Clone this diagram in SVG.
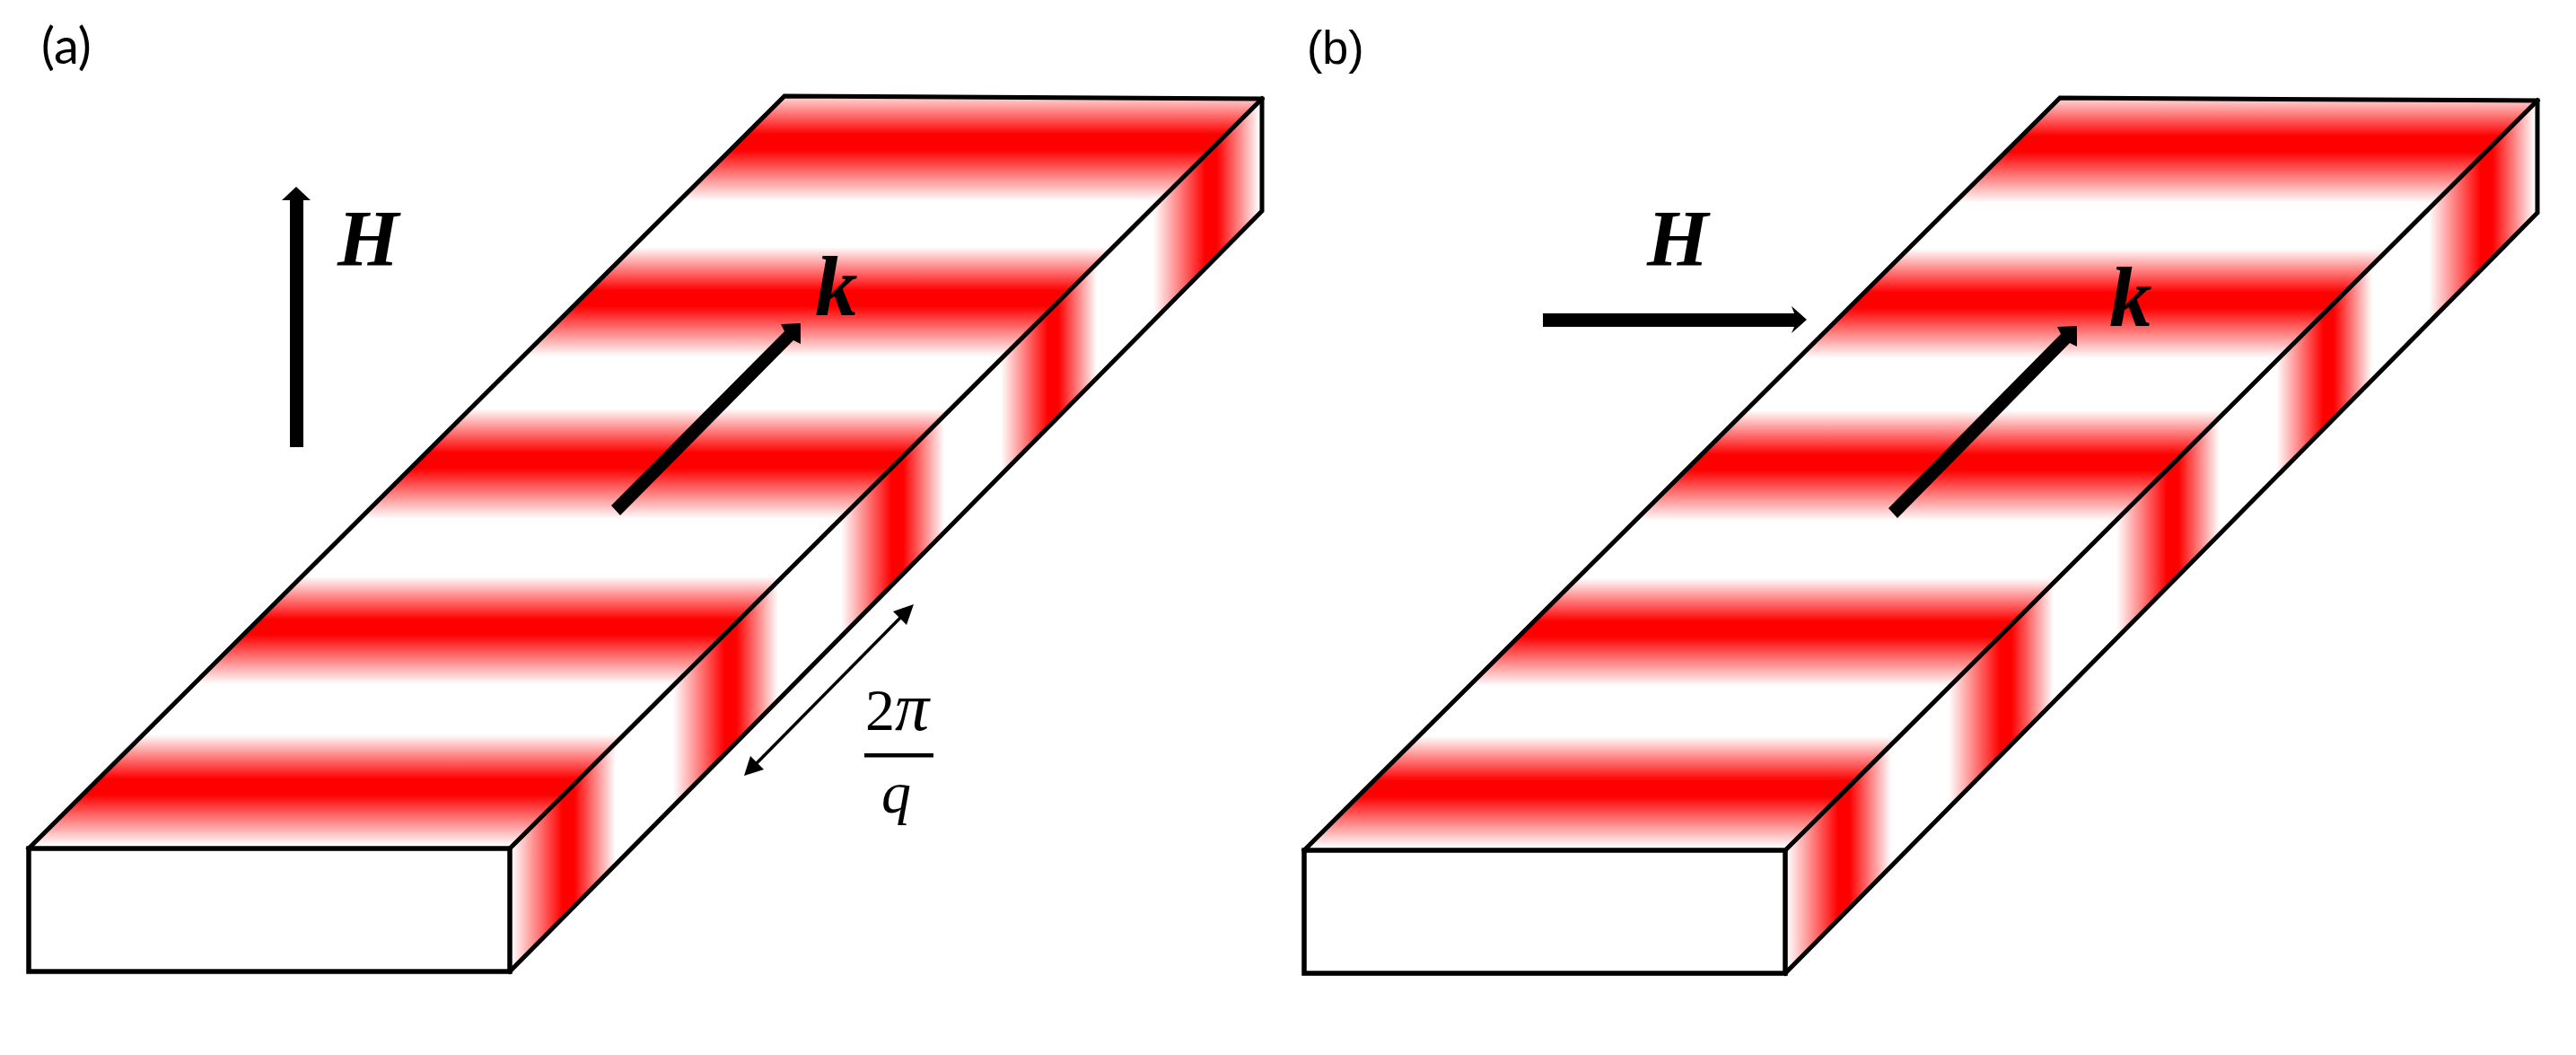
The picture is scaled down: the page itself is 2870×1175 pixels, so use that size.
<svg xmlns="http://www.w3.org/2000/svg" xmlns:xlink="http://www.w3.org/1999/xlink" width="2870" height="1175" viewBox="0 0 2870 1175">
<style>
.edge{fill:none;stroke:#000;stroke-width:5;stroke-linejoin:miter;stroke-linecap:square}
.front{fill:#fff;stroke:#000;stroke-width:5.5}
.sym{font-family:"Liberation Serif",serif;font-weight:bold;font-style:italic;fill:#000}
.math{font-family:"Liberation Serif",serif;font-size:66px;fill:#000}
</style>
<defs>
<linearGradient id="hb" x1="0" y1="0" x2="0" y2="1"><stop offset="0" stop-color="#f00" stop-opacity="0"/><stop offset=".4" stop-color="#f00"/><stop offset=".54" stop-color="#f00"/><stop offset="1" stop-color="#f00" stop-opacity="0"/></linearGradient>
<linearGradient id="vb" x1="0" y1="0" x2="1" y2="0"><stop offset="0" stop-color="#f00" stop-opacity="0"/><stop offset=".49" stop-color="#f00"/><stop offset=".6" stop-color="#f00"/><stop offset="1" stop-color="#f00" stop-opacity="0"/></linearGradient>
<clipPath id="topA"><polygon points="32,945 874,107 1406,110 568,945"/></clipPath>
<clipPath id="sideA"><polygon points="568,945 1406,110 1406,235 568,1082"/></clipPath>
<g id="slab">
<g clip-path="url(#topA)" fill="url(#hb)">
<rect x="0" y="100" width="1420" height="124"/>
<rect x="0" y="275" width="1420" height="122"/>
<rect x="0" y="455" width="1420" height="123"/>
<rect x="0" y="642" width="1420" height="120"/>
<rect x="0" y="818" width="1420" height="124"/>
</g>
<g clip-path="url(#sideA)" fill="url(#vb)">
<rect x="570" y="100" width="116" height="1000"/>
<rect x="750" y="100" width="117" height="1000"/>
<rect x="937" y="100" width="115" height="1000"/>
<rect x="1115" y="100" width="107" height="1000"/>
<rect x="1285" y="100" width="118" height="1000"/>
</g>
<polyline class="edge" points="32,945 874,107 1406,110 1406,235 568,1082"/>
<line class="edge" x1="568" y1="945" x2="1406" y2="110"/>
<rect class="front" x="32" y="945" width="536" height="137"/>
</g>
</defs>
<rect width="2870" height="1175" fill="#fff"/>
<g id="panel-a">
<use id="slab-a" href="#slab"/>
<text id="label-a" x="46" y="71" font-family="Lato,sans-serif" font-size="56" fill="#000">(a)</text>
<text id="H-a" class="sym" x="376" y="295" font-size="88">H</text>
<text id="k-a" class="sym" x="908" y="351" font-size="95">k</text>
<g id="period">
<text class="math" x="964" y="813">2<tspan font-style="italic" font-size="76">π</tspan></text>
<rect x="963" y="839" width="77" height="4.5"/>
<text class="math" x="982" y="905" font-style="italic" font-size="72">q</text>
</g>
</g>
<g id="panel-b">
<use id="slab-b" href="#slab" transform="translate(1421 2)"/>
<text id="label-b" x="1456" y="71" font-family="Liberation Sans,sans-serif" font-size="52" fill="#000">(b)</text>
<text id="H-b" class="sym" x="1835" y="295" font-size="88">H</text>
<text id="k-b" class="sym" x="2350" y="363" font-size="95">k</text>
</g>
<g id="connectors">
<polygon id="arrow-H-a" points="323,498 338,498 338,223 346,223 330,208 314,223 323,223"/>
<polygon id="arrow-k-a" points="691,574 681,563 874,369 870,361 892,360 892,383 884,379"/>
<g id="arrow-period">
<line x1="1005" y1="686" x2="842" y2="851" stroke="#000" stroke-width="3.5"/>
<polygon points="1018,673 1010,696 995,681"/>
<polygon points="829,864 836,842 851,857"/>
</g>
<polygon id="arrow-H-b" points="1719,349 1999,349 1996,341 2013,356 1996,371 1999,364 1719,364"/>
<polygon id="arrow-k-b" points="2114,577 2104,566 2296,372 2292,364 2314,363 2314,386 2306,382"/>
</g>
</svg>
